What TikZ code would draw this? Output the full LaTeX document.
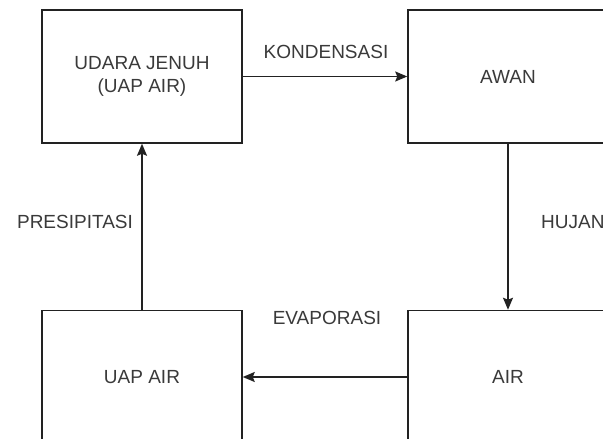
\documentclass[tikz,border=0pt]{standalone}
\usepackage{fontspec}
\setmainfont{Liberation Sans}
\usetikzlibrary{arrows.meta}

\begin{document}
\begin{tikzpicture}[x=1pt, y=-1pt,
    box/.style={draw=boxColour, line width=1.5pt, minimum width=200pt, minimum height=133pt,
        inner sep=0pt, align=center, text=textColour, font=\fontsize{19}{23}\selectfont},
    caption/.style={text=textColour, inner sep=0pt, font=\fontsize{19}{23}\selectfont},
    flow/.style={draw=boxColour, line width=1.5pt, -{Stealth[length=12pt, width=10pt, inset=2pt]}}]
    \definecolor{boxColour}{HTML}{222222}
    \definecolor{textColour}{HTML}{3A3A3A}

    \useasboundingbox[fill=white] (0,0) rectangle (603,439);

    % Draw boxes
    \node[box] (udara) at (142,76.5) {UDARA JENUH\\(UAP AIR)};
    \node[box] (awan) at (508,76.5) {AWAN};
    \node[box] (air) at (508,377) {AIR};
    \node[box] (uap) at (142,377) {UAP AIR};

    % Draw arrows
    \draw[flow] (udara) -- (awan);
    \draw[flow] (awan) -- (air);
    \draw[flow] (air) -- (uap);
    \draw[flow] (uap) -- (udara);

    % Label arrows
    \node[caption] (kondensasi) at (326,52) {KONDENSASI};
    \node[caption, anchor=west] (hujan) at (541,222) {HUJAN};
    \node[caption] (evaporasi) at (327,318) {EVAPORASI};
    \node[caption] (presipitasi) at (75,222) {PRESIPITASI};

\end{tikzpicture}
\end{document}
